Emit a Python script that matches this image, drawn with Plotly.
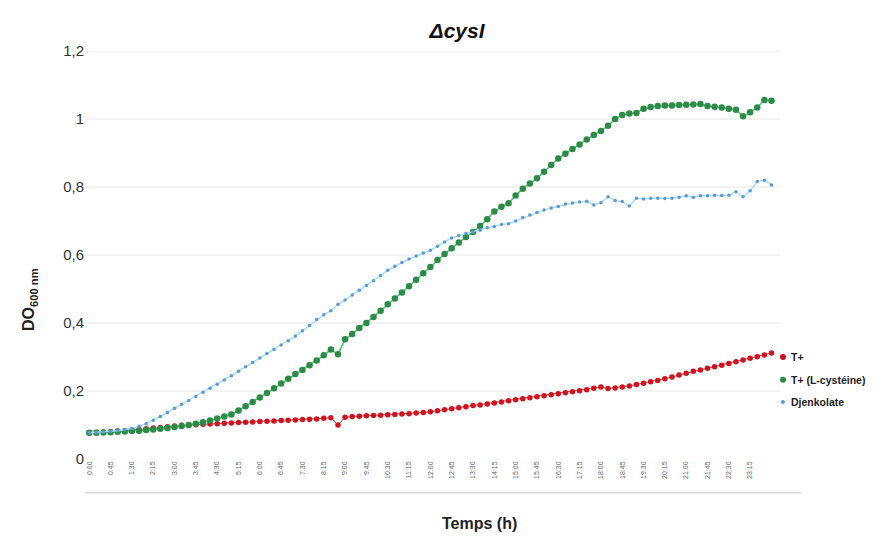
import plotly.graph_objects as go

# Time points every 15 min from 0:00 to 24:00
times = [f"{m // 60}:{m % 60:02d}" for m in range(0, 24 * 60 + 1, 15)]
tick_labels = times[::3][:32]  # 0:00, 0:45, ... 23:15

t_plus = [0.077, 0.078, 0.079, 0.080, 0.082, 0.083, 0.085, 0.087, 0.089, 0.091, 0.093, 0.095, 0.097,
          0.099, 0.100, 0.101, 0.102, 0.103, 0.104, 0.105, 0.106, 0.107, 0.108, 0.109, 0.110, 0.111,
          0.112, 0.113, 0.114, 0.115, 0.116, 0.117, 0.118,
          0.120, 0.121,
          0.100,
          0.123, 0.125, 0.126, 0.127, 0.128, 0.129, 0.130, 0.131, 0.132, 0.133, 0.135, 0.137, 0.139,
          0.142, 0.145, 0.148, 0.151, 0.154, 0.157, 0.159, 0.162, 0.165, 0.168, 0.171, 0.174, 0.177, 0.180,
          0.183, 0.186, 0.189, 0.192, 0.195, 0.198, 0.201, 0.204, 0.208,
          0.212, 0.207, 0.209,
          0.212, 0.215, 0.219, 0.223, 0.227, 0.231, 0.236, 0.241, 0.247, 0.252, 0.258,
          0.262, 0.267, 0.271, 0.276, 0.281, 0.286, 0.291, 0.296, 0.301, 0.306, 0.312]

t_plus_cys = [0.077, 0.077, 0.078, 0.079, 0.080, 0.081, 0.082, 0.083, 0.085, 0.087, 0.089, 0.091, 0.094,
              0.097, 0.100, 0.104, 0.108, 0.113, 0.119, 0.125, 0.131,
              0.143, 0.155, 0.168, 0.181, 0.194, 0.208, 0.222,
              0.236, 0.250, 0.262, 0.276, 0.290, 0.305, 0.322,
              0.308,
              0.352,
              0.368, 0.385, 0.400, 0.418, 0.436, 0.455,
              0.472, 0.490, 0.508, 0.527, 0.546, 0.565, 0.585, 0.603, 0.620, 0.637, 0.653, 0.668, 0.685, 0.705,
              0.728, 0.742, 0.752, 0.775, 0.795, 0.810, 0.826, 0.845, 0.865, 0.884,
              0.898, 0.912, 0.925, 0.940, 0.953, 0.965, 0.980, 1.000, 1.012,
              1.016, 1.018, 1.030, 1.035, 1.038, 1.040, 1.040, 1.041, 1.042, 1.043, 1.044, 1.038, 1.036,
              1.034, 1.030, 1.027,
              1.008, 1.020, 1.034, 1.056, 1.054]

djenkolate = [0.077, 0.078, 0.079, 0.081, 0.083, 0.086, 0.090, 0.096, 0.104,
              0.114, 0.125, 0.137, 0.149, 0.161, 0.172, 0.184, 0.196, 0.208, 0.220, 0.232,
              0.245, 0.258, 0.271, 0.284, 0.297, 0.310, 0.322, 0.335,
              0.348, 0.362, 0.377, 0.393, 0.410, 0.424, 0.436, 0.455,
              0.468, 0.482, 0.496, 0.510, 0.524, 0.540, 0.555, 0.567, 0.578, 0.588, 0.597, 0.606, 0.614,
              0.626, 0.638, 0.650, 0.657, 0.663, 0.668, 0.673, 0.680, 0.684, 0.690, 0.692, 0.700,
              0.710, 0.718, 0.725, 0.732, 0.738, 0.743, 0.750, 0.753, 0.756,
              0.758, 0.747, 0.754, 0.771, 0.760, 0.757, 0.744, 0.767, 0.765, 0.767, 0.767, 0.766, 0.767,
              0.770, 0.774, 0.770, 0.774, 0.774, 0.776, 0.775, 0.776, 0.786, 0.771, 0.789, 0.816, 0.820, 0.806]

y_ticks = [0, 0.2, 0.4, 0.6, 0.8, 1.0, 1.2]

series = [
    ("T+", t_plus, "#E0303C", "#D0121F", 1.0, 5.5),
    ("T+ (L-cystéine)", t_plus_cys, "#49C36A", "#2B8C48", 1.5, 6.5),
    ("Djenkolate", djenkolate, "#A8DDF5", "#5A9AD0", 1.5, 3.5),
]

fig = go.Figure()
for name, vals, lcol, mcol, lw, ms in series:
    fig.add_trace(go.Scatter(
        x=times, y=vals, name=name, mode="lines+markers", showlegend=False,
        line=dict(color=lcol, width=lw),
        marker=dict(color=mcol, size=ms, symbol="circle")))

# legend drawn as dots + text to the right of the plot (as in the reference)
legend_y = [0.25, 0.194, 0.140]
for (name, vals, lcol, mcol, lw, ms), ly in zip(series, legend_y):
    r = 3.0 if ms > 4 else 2.0
    fig.add_shape(type="circle", xref="paper", yref="paper",
                  x0=1.0043 - r / 695, x1=1.0043 + r / 695, y0=ly - r / 408, y1=ly + r / 408,
                  fillcolor=mcol, line=dict(width=0))
    fig.add_annotation(text=name, xref="paper", yref="paper", x=1.0135, y=ly,
                       xanchor="left", yanchor="middle", showarrow=False,
                       font=dict(family="Liberation Sans", size=10.5, color="#222222", weight="bold"))

# horizontal gridlines (no gridline at zero, as in the reference)
for v in y_ticks[1:]:
    fig.add_shape(type="line", xref="paper", yref="y", x0=0, x1=1, y0=v, y1=v,
                  line=dict(color="#E6E6E6", width=1), layer="below")
# bottom border line below category labels
fig.add_shape(type="line", xref="paper", yref="paper", x0=0, x1=1.03, y0=-0.083, y1=-0.083,
              line=dict(color="#D0D0D0", width=1.2), layer="below")

fig.add_annotation(text="<b>Temps (h)</b>", xref="paper", yref="paper", x=0.568, y=-0.157,
                   xanchor="center", yanchor="middle", showarrow=False,
                   font=dict(family="Liberation Sans", size=16, color="#222222"))
fig.add_annotation(text="<b>DO<sub>600 nm</sub></b>", xref="paper", yref="paper", x=-0.079, y=0.39,
                   xanchor="center", yanchor="middle", showarrow=False, textangle=-90,
                   font=dict(family="Liberation Sans", size=16, color="#222222"))

# page body adds an 8px margin, so the figure is 8px smaller and shifted accordingly
fig.update_layout(
    width=884, height=528,
    paper_bgcolor="white", plot_bgcolor="white",
    margin=dict(l=77, r=112, t=43, b=77),
    separators=", ",
    title=dict(text="<b><i>ΔcysI</i></b>", x=0.508, xanchor="center", y=0.958, yanchor="middle",
               font=dict(family="Liberation Sans", size=21, color="#111111")),
    showlegend=False,
    font=dict(family="Liberation Sans"),
)

fig.update_xaxes(
    type="category", range=[-0.6, 97.2], automargin=False,
    tickmode="array", tickvals=tick_labels, ticktext=tick_labels,
    tickangle=-90, tickfont=dict(size=7, color="#666666"),
    showgrid=False, zeroline=False, showline=False, ticks="",
)
fig.update_yaxes(
    range=[0, 1.2], tickvals=y_ticks, automargin=False,
    tickfont=dict(size=15, color="#333333"),
    showgrid=False, zeroline=False, showline=False, ticks="", ticklen=0,
)

fig.write_html("out.html")
